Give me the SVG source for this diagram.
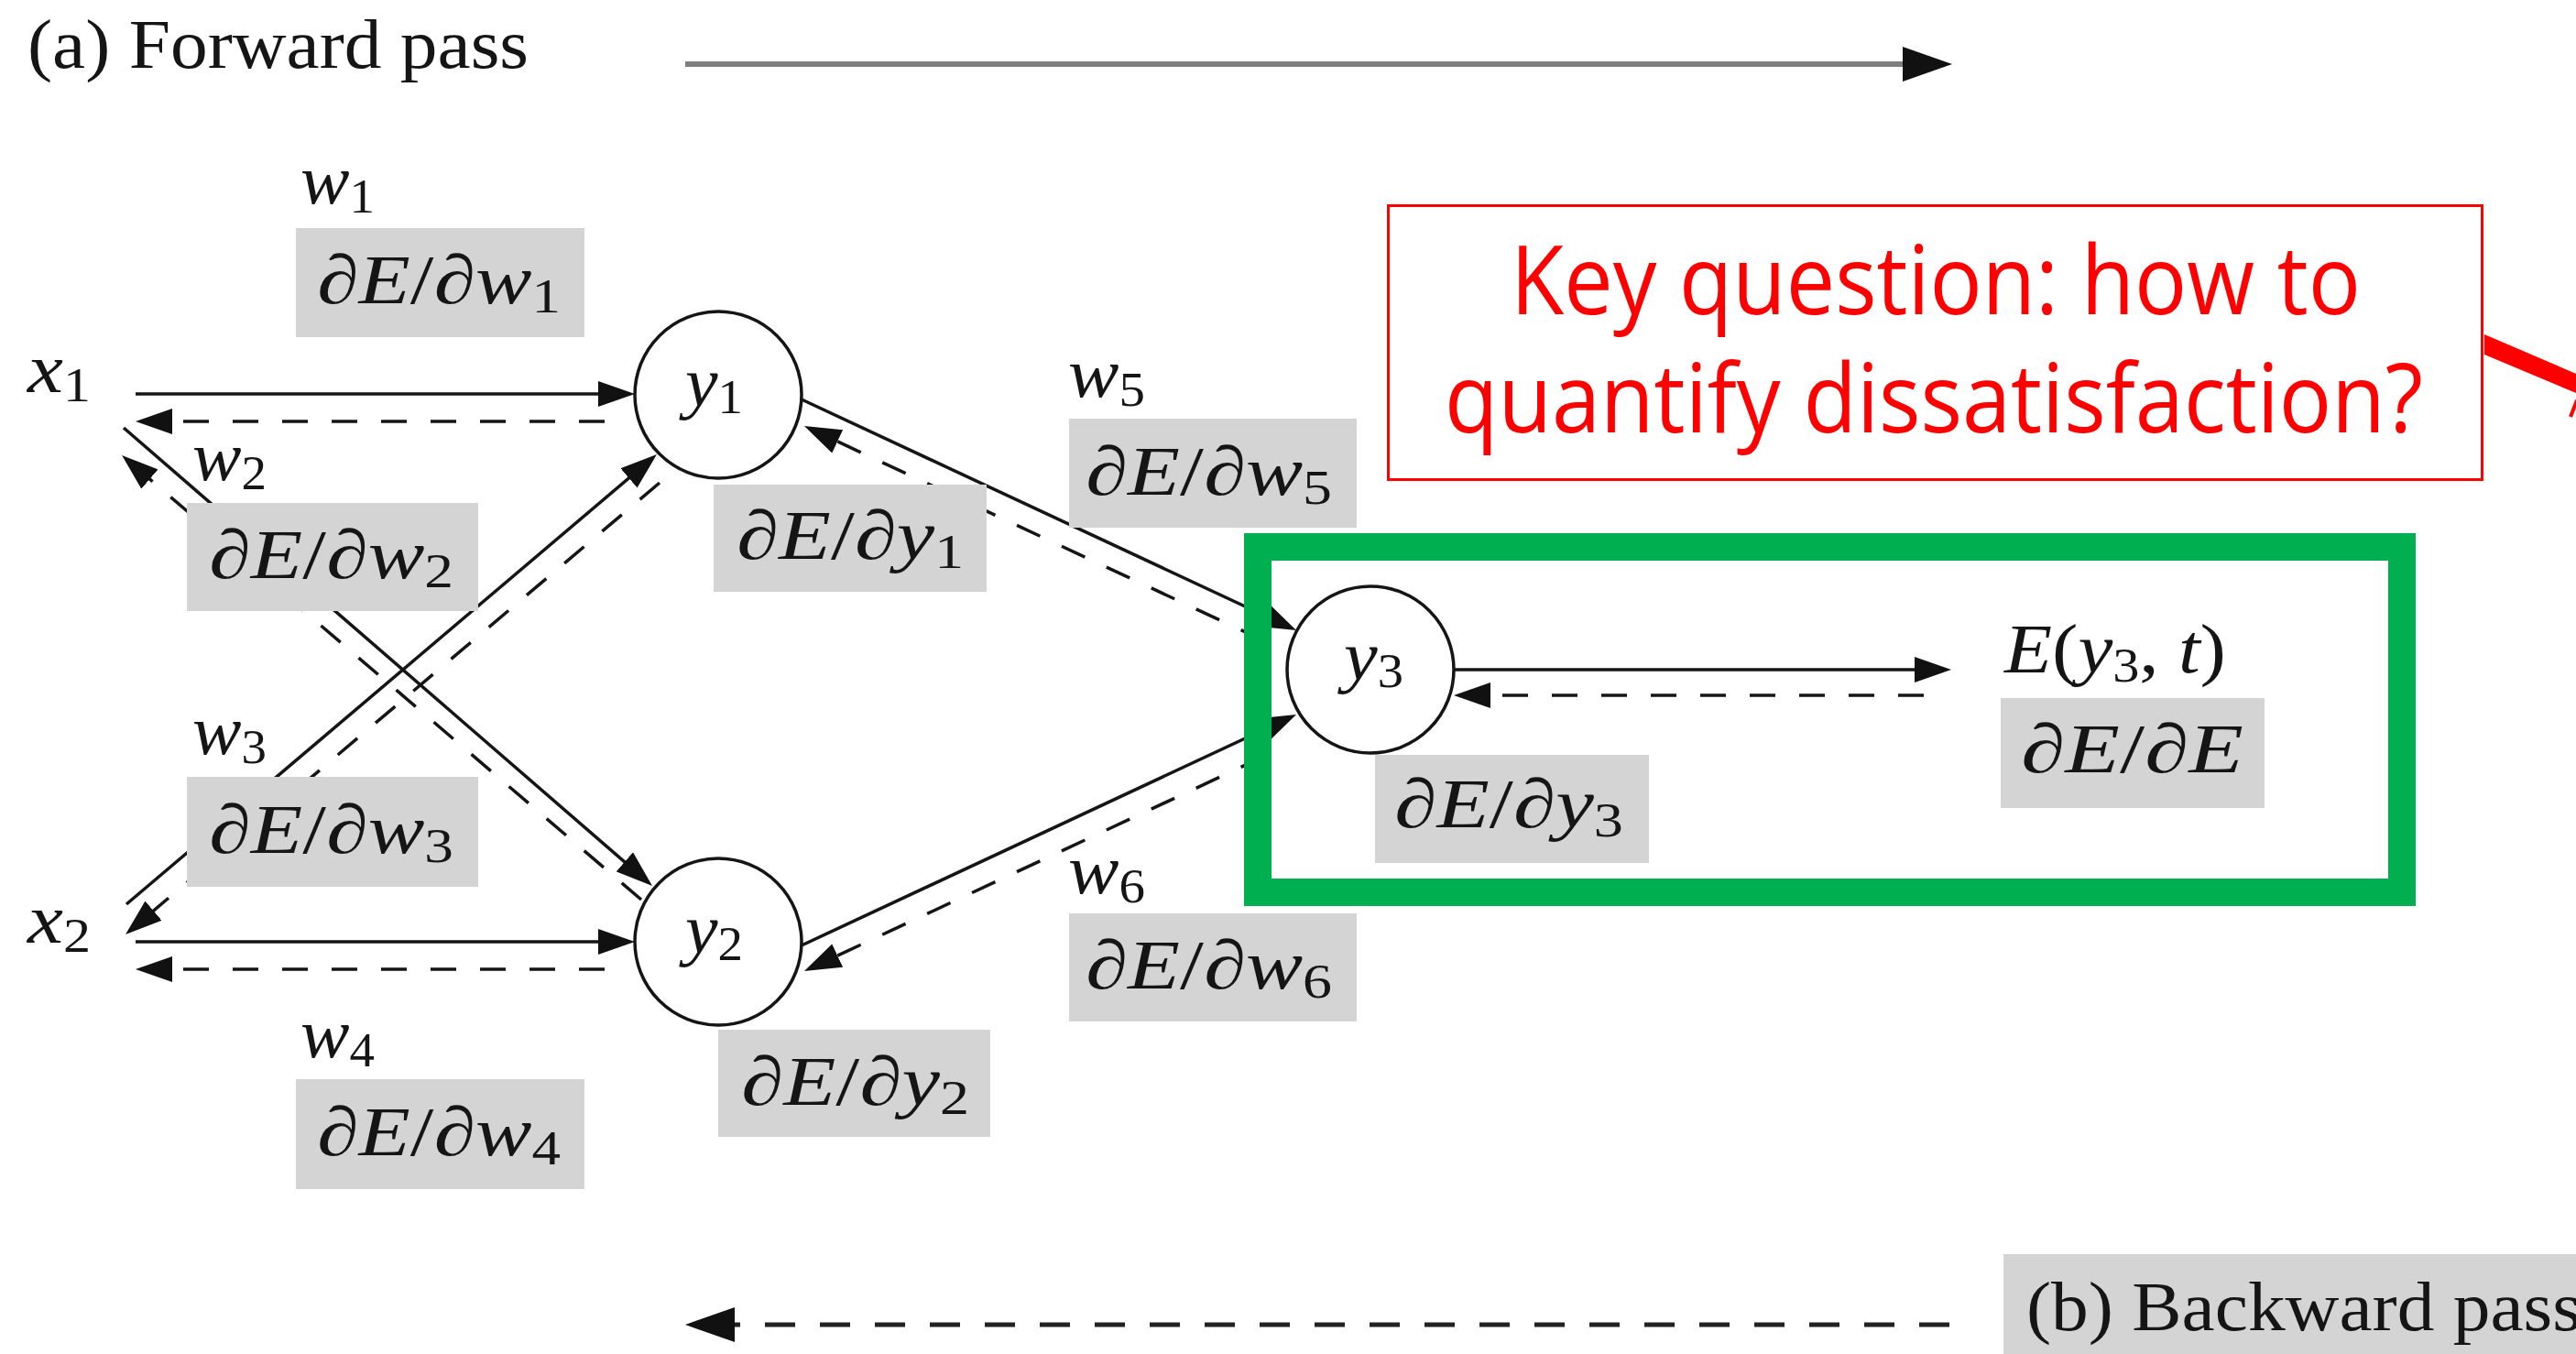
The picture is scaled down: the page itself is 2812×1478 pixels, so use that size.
<svg xmlns="http://www.w3.org/2000/svg" width="2812" height="1478" viewBox="0 0 2812 1478">
<style>
.box{fill:#d4d4d4}
.m{font-family:"Liberation Serif","Times New Roman",serif;font-size:76px;font-style:italic;fill:#151515}
.up{font-style:normal}
.sub{font-size:52px;font-style:normal}
.cap{font-family:"Liberation Serif","Times New Roman",serif;font-size:76px;fill:#151515}
.node{fill:#fff;stroke:#151515;stroke-width:3.5}
.s{stroke:#151515;stroke-width:3.5;fill:none;marker-end:url(#ah)}
.d{stroke:#151515;stroke-width:3.5;fill:none;stroke-dasharray:28 26;marker-end:url(#ah)}
.red{font-family:"Open Sans","Noto Sans",sans-serif;font-size:104px;fill:#ff0000}
</style>
<defs>
<marker id="ah" markerUnits="userSpaceOnUse" markerWidth="40" markerHeight="28" refX="34" refY="14" orient="auto">
<path d="M0,0 L40,14 L0,28 z" fill="#111"/>
</marker>
<marker id="big" markerUnits="userSpaceOnUse" markerWidth="54" markerHeight="38" refX="44" refY="19" orient="auto">
<path d="M0,0 L54,19 L0,38 z" fill="#111"/>
</marker>
</defs>
<rect width="2812" height="1478" fill="#fff"/>

<g id="captions">
<text class="cap" x="30" y="74" textLength="547" lengthAdjust="spacingAndGlyphs">(a) Forward pass</text>
<line x1="748" y1="70" x2="2121" y2="70" stroke="#7f7f7f" stroke-width="6" marker-end="url(#big)"/>
<rect class="box" x="2187" y="1369" width="625" height="109"/>
<text class="cap" x="2212" y="1452" textLength="606" lengthAdjust="spacingAndGlyphs">(b) Backward pass</text>
<line x1="2128" y1="1446" x2="758" y2="1446" stroke="#222" stroke-width="5" stroke-dasharray="33 27" marker-end="url(#big)"/>
</g>

<g id="connectors">
<line class="s" x1="148" y1="430" x2="687" y2="430"/>
<line class="d" x1="660" y1="460" x2="154" y2="460"/>
<line class="s" x1="148" y1="1028" x2="687" y2="1028"/>
<line class="d" x1="660" y1="1058" x2="154" y2="1058"/>
<line class="s" x1="135" y1="467" x2="707.5" y2="963.1"/>
<line class="d" x1="700" y1="982" x2="137.6" y2="500.9"/>
<line class="s" x1="138" y1="987" x2="712.4" y2="499.9"/>
<line class="d" x1="720" y1="527" x2="141.6" y2="1016.1"/>
<line class="s" x1="875" y1="436" x2="1409.6" y2="685.5"/>
<line class="d" x1="1380" y1="699.5" x2="883.4" y2="467.5"/>
<line class="s" x1="875" y1="1032" x2="1409.6" y2="782.5"/>
<line class="d" x1="1380" y1="825.6" x2="883.4" y2="1057.5"/>
<line class="s" x1="1587" y1="731" x2="2124" y2="731" stroke-width="4.5"/>
<line class="d" x1="2100" y1="759" x2="1593" y2="759"/>
</g>

<g id="edge-labels">
<g id="lbl-w1">
<text class="m" x="328" y="222" textLength="81" lengthAdjust="spacingAndGlyphs">w<tspan class="sub" dy="10">1</tspan></text>
<rect class="box" x="323" y="249" width="315" height="119"/>
<text class="m" x="346" y="331" textLength="266" lengthAdjust="spacingAndGlyphs">∂E<tspan class="up">/</tspan>∂w<tspan class="sub" dy="10">1</tspan></text>
</g>
<g id="lbl-w2">
<text class="m" x="210" y="524" textLength="81" lengthAdjust="spacingAndGlyphs">w<tspan class="sub" dy="10">2</tspan></text>
<rect class="box" x="204" y="549" width="318" height="118"/>
<text class="m" x="228" y="631" textLength="267" lengthAdjust="spacingAndGlyphs">∂E<tspan class="up">/</tspan>∂w<tspan class="sub" dy="10">2</tspan></text>
</g>
<g id="lbl-w3">
<text class="m" x="210" y="823" textLength="81" lengthAdjust="spacingAndGlyphs">w<tspan class="sub" dy="10">3</tspan></text>
<rect class="box" x="204" y="848" width="318" height="120"/>
<text class="m" x="228" y="931" textLength="267" lengthAdjust="spacingAndGlyphs">∂E<tspan class="up">/</tspan>∂w<tspan class="sub" dy="10">3</tspan></text>
</g>
<g id="lbl-w4">
<text class="m" x="328" y="1154" textLength="81" lengthAdjust="spacingAndGlyphs">w<tspan class="sub" dy="10">4</tspan></text>
<rect class="box" x="323" y="1178" width="315" height="120"/>
<text class="m" x="346" y="1261" textLength="266" lengthAdjust="spacingAndGlyphs">∂E<tspan class="up">/</tspan>∂w<tspan class="sub" dy="10">4</tspan></text>
</g>
<g id="lbl-w5">
<text class="m" x="1166" y="433" textLength="84" lengthAdjust="spacingAndGlyphs">w<tspan class="sub" dy="10">5</tspan></text>
<rect class="box" x="1167" y="457" width="314" height="119"/>
<text class="m" x="1185" y="540" textLength="269" lengthAdjust="spacingAndGlyphs">∂E<tspan class="up">/</tspan>∂w<tspan class="sub" dy="10">5</tspan></text>
</g>
<g id="lbl-w6">
<text class="m" x="1166" y="975" textLength="84" lengthAdjust="spacingAndGlyphs">w<tspan class="sub" dy="10">6</tspan></text>
<rect class="box" x="1167" y="997" width="314" height="118"/>
<text class="m" x="1185" y="1079" textLength="269" lengthAdjust="spacingAndGlyphs">∂E<tspan class="up">/</tspan>∂w<tspan class="sub" dy="10">6</tspan></text>
</g>
</g>

<g id="x1"><text class="m" x="30" y="428" textLength="69" lengthAdjust="spacingAndGlyphs">x<tspan class="sub" dy="10">1</tspan></text></g>
<g id="x2"><text class="m" x="30" y="1029" textLength="69" lengthAdjust="spacingAndGlyphs">x<tspan class="sub" dy="10">2</tspan></text></g>

<g id="y1">
<circle class="node" cx="784" cy="431" r="91"/>
<text class="m" x="748" y="443" textLength="63" lengthAdjust="spacingAndGlyphs">y<tspan class="sub" dy="8">1</tspan></text>
<rect class="box" x="779" y="529" width="298" height="117"/>
<text class="m" x="804" y="610" textLength="248" lengthAdjust="spacingAndGlyphs">∂E<tspan class="up">/</tspan>∂y<tspan class="sub" dy="10">1</tspan></text>
</g>
<g id="y2">
<circle class="node" cx="784" cy="1028" r="91"/>
<text class="m" x="748" y="1040" textLength="63" lengthAdjust="spacingAndGlyphs">y<tspan class="sub" dy="8">2</tspan></text>
<rect class="box" x="784" y="1124" width="297" height="117"/>
<text class="m" x="809" y="1206" textLength="249" lengthAdjust="spacingAndGlyphs">∂E<tspan class="up">/</tspan>∂y<tspan class="sub" dy="10">2</tspan></text>
</g>
<g id="y3">
<circle class="node" cx="1496" cy="731" r="91"/>
<text class="m" x="1467" y="742" textLength="65" lengthAdjust="spacingAndGlyphs">y<tspan class="sub" dy="8">3</tspan></text>
<rect class="box" x="1501" y="824" width="299" height="118"/>
<text class="m" x="1522" y="903" textLength="250" lengthAdjust="spacingAndGlyphs">∂E<tspan class="up">/</tspan>∂y<tspan class="sub" dy="10">3</tspan></text>
</g>
<g id="E">
<text class="m" x="2188" y="734" textLength="242" lengthAdjust="spacingAndGlyphs">E<tspan class="up">(</tspan>y<tspan class="sub" dy="10">3</tspan><tspan class="up" dy="-10">,</tspan> t<tspan class="up">)</tspan></text>
<rect class="box" x="2184" y="762" width="288" height="120"/>
<text class="m" x="2206" y="843" textLength="243" lengthAdjust="spacingAndGlyphs">∂E<tspan class="up">/</tspan>∂E</text>
</g>

<g id="highlight">
<rect x="1373" y="597" width="1249" height="377" fill="none" stroke="#00b050" stroke-width="30"/>
</g>

<g id="callout">
<rect x="1515.5" y="224.5" width="1194" height="299" fill="#fff" stroke="#ff0000" stroke-width="3"/>
<text class="red" x="1649" y="343" textLength="928" lengthAdjust="spacingAndGlyphs">Key question: how to</text>
<text class="red" x="1577" y="472" textLength="1068" lengthAdjust="spacingAndGlyphs">quantify dissatisfaction?</text>
<polygon points="2712,365 2812,408 2812,429 2712,387" fill="#ff0000"/>
<line x1="2806" y1="455" x2="2813" y2="437" stroke="#ff0000" stroke-width="4"/>
</g>
</svg>
